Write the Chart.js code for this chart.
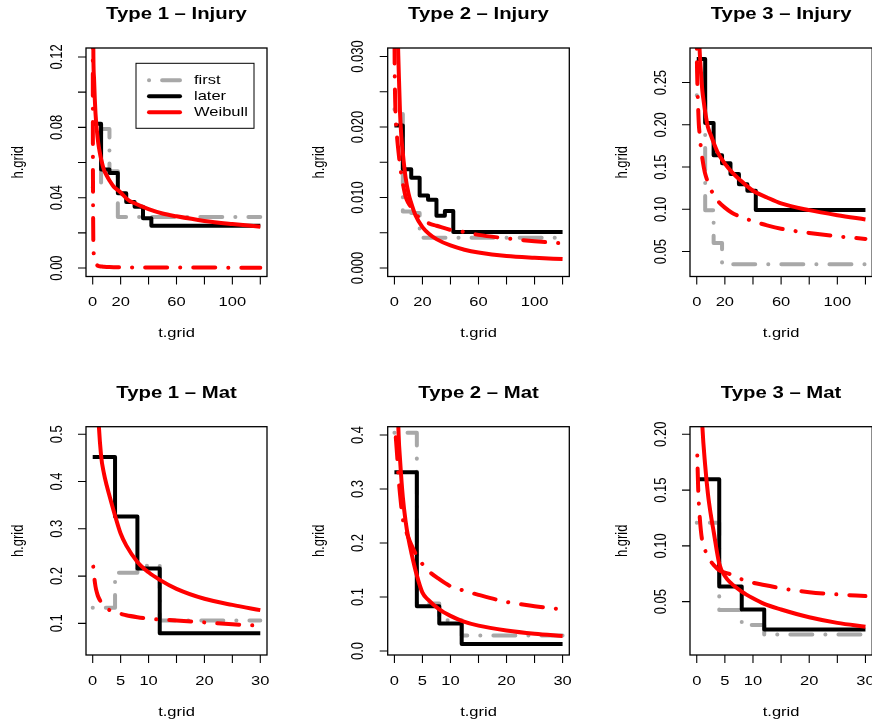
<!DOCTYPE html>
<html>
<head>
<meta charset="utf-8">
<script src="https://cdn.jsdelivr.net/npm/chart.js@4.4.1/dist/chart.umd.min.js"></script>
<style>
    html, body { margin: 0; padding: 0; background: #fff; }
    #page { position: relative; width: 872px; height: 721px; overflow: hidden; background: #fff; }
    #page canvas { position: absolute; }
</style>
</head>
<body>
<div id="page">
    <canvas id="inj1" width="300" height="361" style="left:0px;top:0px"></canvas>
    <canvas id="inj2" width="300" height="361" style="left:290px;top:0px"></canvas>
    <canvas id="inj3" width="300" height="361" style="left:580px;top:0px"></canvas>
    <canvas id="mat1" width="300" height="361" style="left:0px;top:360px"></canvas>
    <canvas id="mat2" width="300" height="361" style="left:290px;top:360px"></canvas>
    <canvas id="mat3" width="300" height="361" style="left:580px;top:360px"></canvas>
</div>
<script>
// ---- data ----
// step estimates: time breaks
const injBreaks = [0, 6, 12, 18, 24, 30, 36, 42, 120];
const injFirstBreaks = [0, 6, 12, 18, 120];
const matBreaks = [0, 4, 8, 12, 30];

// time grid of the fitted curves
const injT = [0.05, 0.1, 0.25, 0.5, 1, 1.5, 2, 3, 4, 5, 6, 8, 10, 12, 15, 20, 25, 30, 40, 50, 60, 80, 100, 120];
const matT = [0.1, 0.25, 0.5, 0.75, 1, 1.5, 2, 2.5, 3, 4, 5, 6, 8, 10, 12, 15, 20, 25, 30];

// Type 1 - Injury
const inj1First = [0.046, 0.079, 0.055, 0.029];
const inj1Later = [0.082, 0.056, 0.054, 0.0425, 0.0375, 0.0348, 0.0283, 0.024];
const inj1Weib = [0.3, 0.2, 0.15, 0.12, 0.107, 0.096, 0.088, 0.078, 0.071, 0.066, 0.062, 0.056, 0.0526, 0.0498, 0.0463, 0.043, 0.039, 0.0368, 0.0335, 0.031, 0.0294, 0.0268, 0.025, 0.0235];
const inj1Weib2 = [0.2, 0.1, 0.04, 0.013, 0.007, 0.0047, 0.0032, 0.0018, 0.0012, 0.001, 0.0009, 0.0007, 0.0006, 0.00055, 0.0005, 0.00045, 0.0004, 0.00038, 0.00034, 0.00031, 0.00029, 0.00026, 0.00024, 0.00022];

// Type 2 - Injury
const inj2First = [0.0225, 0.008, 0.0078, 0.0043];
const inj2Later = [0.0202, 0.014, 0.0128, 0.0103, 0.0097, 0.0074, 0.0081, 0.0051];
const inj2Weib = [0.2, 0.15, 0.1, 0.07, 0.05, 0.042, 0.036, 0.0285, 0.022, 0.0185, 0.0163, 0.0128, 0.0106, 0.0092, 0.0075, 0.0058, 0.0048, 0.0041, 0.0032, 0.0026, 0.0022, 0.0017, 0.00145, 0.00127];
const inj2Weib2 = [0.034, 0.031, 0.027, 0.024, 0.021, 0.0195, 0.0183, 0.0163, 0.0145, 0.0132, 0.012, 0.0101, 0.0092, 0.0086, 0.0077, 0.0068, 0.0063, 0.006, 0.0054, 0.0051, 0.0047, 0.0042, 0.0038, 0.0035];

// Type 3 - Injury
const inj3First = [0.235, 0.099, 0.06, 0.035];
const inj3Later = [0.278, 0.202, 0.164, 0.1545, 0.1417, 0.1296, 0.122, 0.0992];
const inj3Weib = [0.6, 0.5, 0.42, 0.38, 0.33, 0.31, 0.29, 0.262, 0.24, 0.227, 0.215, 0.197, 0.188, 0.179, 0.167, 0.154, 0.144, 0.136, 0.122, 0.114, 0.107, 0.099, 0.093, 0.088];
const inj3Weib2 = [0.29, 0.28, 0.262, 0.245, 0.22, 0.2, 0.19, 0.172, 0.16, 0.15, 0.142, 0.132, 0.124, 0.117, 0.11, 0.102, 0.096, 0.092, 0.086, 0.081, 0.077, 0.072, 0.068, 0.065];

// Type 1 - Mat
const mat1First = [0.133, 0.207, 0.222, 0.106];
const mat1Later = [0.452, 0.326, 0.216, 0.079];
const mat1Weib = [1.2, 0.9, 0.72, 0.62, 0.54, 0.455, 0.418, 0.392, 0.37, 0.328, 0.29, 0.265, 0.23, 0.208, 0.192, 0.173, 0.152, 0.139, 0.128];
const mat1Weib2 = [0.22, 0.2, 0.178, 0.165, 0.156, 0.145, 0.137, 0.132, 0.128, 0.123, 0.12, 0.117, 0.113, 0.11, 0.108, 0.106, 0.102, 0.098, 0.095];

// Type 2 - Mat
const mat2First = [0.404, 0.088, 0.057, 0.0285];
const mat2Later = [0.331, 0.083, 0.051, 0.013];
const mat2Weib = [1.2, 0.7, 0.5, 0.4, 0.355, 0.285, 0.24, 0.208, 0.183, 0.14, 0.108, 0.095, 0.077, 0.065, 0.056, 0.047, 0.038, 0.032, 0.028];
const mat2Weib2 = [0.42, 0.395, 0.36, 0.32, 0.29, 0.245, 0.225, 0.21, 0.197, 0.176, 0.161, 0.149, 0.133, 0.12, 0.113, 0.104, 0.091, 0.083, 0.077];

// Type 3 - Mat
const mat3First = [0.1208, 0.0425, 0.029, 0.0205];
const mat3Later = [0.1597, 0.0637, 0.0429, 0.025];
const mat3Weib = [0.6, 0.4, 0.29, 0.24, 0.207, 0.172, 0.146, 0.128, 0.113, 0.084, 0.073, 0.067, 0.059, 0.053, 0.048, 0.043, 0.036, 0.031, 0.0276];
const mat3Weib2 = [0.181, 0.152, 0.128, 0.113, 0.104, 0.096, 0.09, 0.086, 0.083, 0.078, 0.076, 0.0745, 0.07, 0.067, 0.065, 0.062, 0.0585, 0.0565, 0.055];

// axis ticks and labels
const injXTicks = [0, 20, 40, 60, 80, 100, 120];
const injXLabels = ['0', '20', '', '60', '', '100', ''];
const matXTicks = [0, 5, 10, 15, 20, 25, 30];
const matXLabels = ['0', '5', '10', '', '20', '', '30'];
const inj1YTicks = [0, 0.02, 0.04, 0.06, 0.08, 0.1, 0.12];
const inj1YLabels = ['0.00', '', '0.04', '', '0.08', '', '0.12'];
const inj2YTicks = [0, 0.005, 0.01, 0.015, 0.02, 0.025, 0.03];
const inj2YLabels = ['0.000', '', '0.010', '', '0.020', '', '0.030'];
const inj3YTicks = [0.05, 0.1, 0.15, 0.2, 0.25];
const inj3YLabels = ['0.05', '0.10', '0.15', '0.20', '0.25'];
const mat1YTicks = [0.1, 0.2, 0.3, 0.4, 0.5];
const mat1YLabels = ['0.1', '0.2', '0.3', '0.4', '0.5'];
const mat2YTicks = [0, 0.1, 0.2, 0.3, 0.4];
const mat2YLabels = ['0.0', '0.1', '0.2', '0.3', '0.4'];
const mat3YTicks = [0.05, 0.1, 0.15, 0.2];
const mat3YLabels = ['0.05', '0.10', '0.15', '0.20'];

const legendLabels = ['first', 'later', 'Weibull'];

// ---- styling ----
const RED = '#FF0000';
const GRAY = '#A8A8A8';
const DOTDASH = [0.1, 13, 22, 13];
const SX = 1.27; // the picture is stretched sideways, text too
const FONT = '"Liberation Sans", Arial, Helvetica, sans-serif';
const TICK = 8;

const panels = {
    inj1: {title: 'Type 1 \u2013 Injury', box: [86, 48, 267, 276.5], cell: [0, 0], x: [-4.8, 124.8], y: [-0.0048, 0.1251],
        xt: injXTicks, xl: injXLabels, yt: inj1YTicks, yl: inj1YLabels, legend: true,
        t: injT, weib: inj1Weib, weib2: inj1Weib2, br: injBreaks, later: inj1Later, fbr: injFirstBreaks, first: inj1First},
    inj2: {title: 'Type 2 \u2013 Injury', box: [387.7, 48, 569.3, 276.5], cell: [290, 0], x: [-4.8, 124.8], y: [-0.0012, 0.0312],
        xt: injXTicks, xl: injXLabels, yt: inj2YTicks, yl: inj2YLabels,
        t: injT, weib: inj2Weib, weib2: inj2Weib2, br: injBreaks, later: inj2Later, fbr: injFirstBreaks, first: inj2First},
    inj3: {title: 'Type 3 \u2013 Injury', box: [690, 48, 872.2, 276.5], cell: [580, 0], x: [-4.8, 124.8], y: [0.0205, 0.2909],
        xt: injXTicks, xl: injXLabels, yt: inj3YTicks, yl: inj3YLabels,
        t: injT, weib: inj3Weib, weib2: inj3Weib2, br: injBreaks, later: inj3Later, fbr: injFirstBreaks, first: inj3First},
    mat1: {title: 'Type 1 \u2013 Mat', box: [86, 426.7, 267, 655], cell: [0, 360], x: [-1.2, 31.2], y: [0.033, 0.5161],
        xt: matXTicks, xl: matXLabels, yt: mat1YTicks, yl: mat1YLabels,
        t: matT, weib: mat1Weib, weib2: mat1Weib2, br: matBreaks, later: mat1Later, fbr: matBreaks, first: mat1First},
    mat2: {title: 'Type 2 \u2013 Mat', box: [387.7, 426.7, 569.3, 655], cell: [290, 360], x: [-1.2, 31.2], y: [-0.0074, 0.4154],
        xt: matXTicks, xl: matXLabels, yt: mat2YTicks, yl: mat2YLabels,
        t: matT, weib: mat2Weib, weib2: mat2Weib2, br: matBreaks, later: mat2Later, fbr: matBreaks, first: mat2First},
    mat3: {title: 'Type 3 \u2013 Mat', box: [690, 426.7, 872.2, 655], cell: [580, 360], x: [-1.2, 31.2], y: [0.0022, 0.2068],
        xt: matXTicks, xl: matXLabels, yt: mat3YTicks, yl: mat3YLabels,
        t: matT, weib: mat3Weib, weib2: mat3Weib2, br: matBreaks, later: mat3Later, fbr: matBreaks, first: mat3First}
};

function curve(ts, vs) {
    return ts.map((t, i) => ({x: t, y: vs[i]}));
}

// last value is held to the end of the axis
function steps(breaks, vals) {
    return breaks.map((t, i) => ({x: t, y: vals[Math.min(i, vals.length - 1)]}));
}

function text(ctx, str, x, y, font, rotate) {
    ctx.save();
    ctx.translate(x, y);
    ctx.scale(SX, 1);
    if (rotate) ctx.rotate(-Math.PI / 2);
    ctx.font = font;
    ctx.textAlign = 'center';
    ctx.textBaseline = 'middle';
    ctx.fillText(str, 0, 0);
    ctx.restore();
}

function drawLegend(chart, a) {
    const ctx = chart.ctx;
    const ds = chart.data.datasets;
    const styles = {first: ds[3], later: ds[2], Weibull: ds[0]};
    const bx = a.left + 50, by = a.top + 15.3;
    ctx.lineWidth = 1;
    ctx.strokeStyle = '#000';
    ctx.strokeRect(bx, by, 118, 65);
    legendLabels.forEach((name, i) => {
        const s = styles[name];
        const yy = by + 17 + i * 16;
        ctx.save();
        ctx.strokeStyle = s.borderColor;
        ctx.lineWidth = s.borderWidth;
        ctx.lineCap = 'round';
        ctx.setLineDash(s.borderDash || []);
        ctx.beginPath();
        ctx.moveTo(bx + 13, yy);
        ctx.lineTo(bx + 44, yy);
        ctx.stroke();
        ctx.restore();
        ctx.save();
        ctx.translate(bx + 58, yy);
        ctx.scale(SX, 1);
        ctx.font = '13px ' + FONT;
        ctx.textAlign = 'left';
        ctx.textBaseline = 'middle';
        ctx.fillStyle = '#000';
        ctx.fillText(name, 0, 0);
        ctx.restore();
    });
}

const rAxes = {
    id: 'rAxes',
    afterDatasetsDraw(chart) {
        const p = panels[chart.canvas.id];
        const {ctx, chartArea: a} = chart;
        const xs = chart.scales.x, ys = chart.scales.y;
        ctx.save();
        ctx.strokeStyle = '#000';
        ctx.fillStyle = '#000';
        ctx.lineWidth = 1.3;
        ctx.strokeRect(a.left, a.top, a.right - a.left, a.bottom - a.top);

        ctx.lineWidth = 1.1;
        ctx.beginPath();
        p.xt.forEach(t => {
            const px = xs.getPixelForValue(t);
            ctx.moveTo(px, a.bottom);
            ctx.lineTo(px, a.bottom + TICK);
        });
        p.yt.forEach(v => {
            const py = ys.getPixelForValue(v);
            ctx.moveTo(a.left, py);
            ctx.lineTo(a.left - TICK, py);
        });
        ctx.stroke();

        const tickFont = '13px ' + FONT;
        p.xt.forEach((t, i) => {
            if (p.xl[i]) text(ctx, p.xl[i], xs.getPixelForValue(t), a.bottom + 26, tickFont, false);
        });
        p.yt.forEach((v, i) => {
            if (p.yl[i]) text(ctx, p.yl[i], a.left - 29, ys.getPixelForValue(v), tickFont, true);
        });

        text(ctx, 't.grid', (a.left + a.right) / 2, a.bottom + 57, '13px ' + FONT, false);
        text(ctx, 'h.grid', a.left - 68, (a.top + a.bottom) / 2, '13px ' + FONT, true);
        text(ctx, p.title, (a.left + a.right) / 2, a.top - 33, 'bold 16px ' + FONT, false);

        if (p.legend) drawLegend(chart, a);
        ctx.restore();
    }
};

function makePanel(id) {
    const p = panels[id];
    const [l, t, r, b] = p.box;
    const [cx, cy] = p.cell;
    const canvas = document.getElementById(id);
    const base = {pointRadius: 0, borderWidth: 4, clip: 0, borderJoinStyle: 'round', fill: false};

    return new Chart(canvas, {
        type: 'line',
        data: {
            datasets: [
                Object.assign({}, base, {
                    label: 'Weibull',
                    data: curve(p.t, p.weib),
                    borderColor: RED,
                    cubicInterpolationMode: 'monotone'
                }),
                Object.assign({}, base, {
                    label: 'Weibull (first)',
                    data: curve(p.t, p.weib2),
                    borderColor: RED,
                    borderDash: DOTDASH,
                    borderCapStyle: 'round',
                    cubicInterpolationMode: 'monotone'
                }),
                Object.assign({}, base, {
                    label: 'later',
                    data: steps(p.br, p.later),
                    borderColor: '#000',
                    stepped: 'before'
                }),
                Object.assign({}, base, {
                    label: 'first',
                    data: steps(p.fbr, p.first),
                    borderColor: GRAY,
                    borderDash: DOTDASH,
                    borderCapStyle: 'round',
                    stepped: 'before'
                })
            ]
        },
        options: {
            responsive: false,
            animation: false,
            devicePixelRatio: 1,
            events: [],
            layout: {
                padding: {left: l - cx, top: t - cy, right: 300 - (r - cx), bottom: 361 - (b - cy)}
            },
            scales: {
                x: {type: 'linear', min: p.x[0], max: p.x[1], display: false},
                y: {type: 'linear', min: p.y[0], max: p.y[1], display: false}
            },
            plugins: {
                legend: {display: false},
                tooltip: {enabled: false}
            }
        },
        plugins: [rAxes]
    });
}

window.addEventListener('DOMContentLoaded', function () {
    Object.keys(panels).forEach(makePanel);
});
</script>
</body>
</html>
